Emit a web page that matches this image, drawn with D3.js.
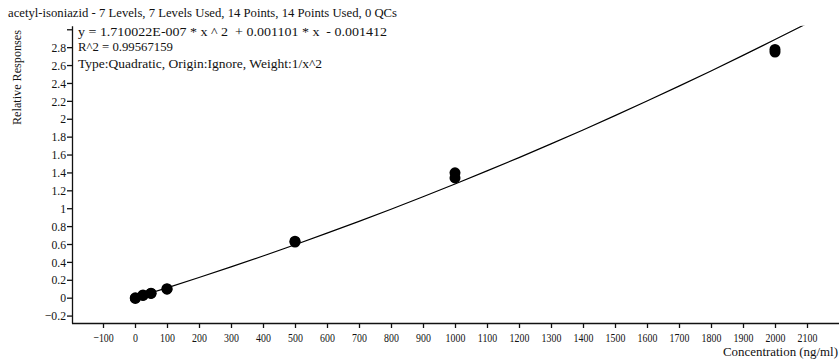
<!doctype html>
<meta charset="utf8">
<style>
  body { margin: 0; background: #fff; }
  svg text { font-family: "Liberation Serif", "DejaVu Serif", serif; fill: #111; }
</style>
<body>
<div id="chart"></div>

<script src="https://d3js.org/d3.v7.min.js"></script>
<script>
(function() {

const WIDTH = 839;
const HEIGHT = 361;

const TITLE = "acetyl-isoniazid - 7 Levels, 7 Levels Used, 14 Points, 14 Points Used, 0 QCs";
const FIT_LINES = [
  "y = 1.710022E-007 * x ^ 2  + 0.001101 * x  - 0.001412",
  "R^2 = 0.99567159",
  "Type:Quadratic, Origin:Ignore, Weight:1/x^2",
];
const X_LABEL = "Concentration (ng/ml)";
const Y_LABEL = "Relative Responses";

// calibration points (two replicates per level)
const concentrations = [1, 1, 25, 25, 50, 50, 100, 100, 500, 500, 1000, 1000, 2000, 2000];
const responses = [-0.008, -0.002, 0.025, 0.03, 0.048, 0.05, 0.095, 0.1, 0.632, 0.622, 1.395, 1.338, 2.775, 2.745];

// fitted curve
const curveX = [0, 100, 200, 300, 400, 500, 600, 700, 800, 900, 1000, 1100, 1200, 1300, 1400, 1500, 1600, 1700, 1800, 1900, 2000, 2100];
const curveY = [-0.001, 0.110, 0.226, 0.344, 0.466, 0.592, 0.721, 0.853, 0.989, 1.128, 1.271, 1.417, 1.566, 1.719, 1.875, 2.035, 2.198, 2.365, 2.534, 2.708, 2.885, 3.065];

const xTicks = d3.range(-100, 2101, 100);
const yTicks = [-0.2, 0, 0.2, 0.4, 0.6, 0.8, 1, 1.2, 1.4, 1.6, 1.8, 2, 2.2, 2.4, 2.6, 2.8, 3];
const yTickLabels = yTicks.map(d => d === 3 ? "" : d3.format("~g")(d));

const svg = d3.select("#chart").append("svg")
  .attr("width", WIDTH)
  .attr("height", HEIGHT);

const x = d3.scaleLinear().domain([-200, 2200]).range([71, 839]);
const y = d3.scaleLinear().domain([-0.283, 3.04]).range([323, 25.7]);
const axisX = 72;

// squeeze text horizontally to look like the narrow original face
function squeeze(sel, k) {
  sel.each(function() {
    const w = this.getComputedTextLength();
    if (w > 0) {
      d3.select(this).attr("textLength", w * k).attr("lengthAdjust", "spacingAndGlyphs");
    }
  });
}

function fitWidth(sel, target) {
  sel.attr("textLength", target).attr("lengthAdjust", "spacingAndGlyphs");
}

svg.append("defs").append("clipPath")
    .attr("id", "plot")
  .append("rect")
    .attr("x", axisX)
    .attr("y", y.range()[1])
    .attr("width", WIDTH - axisX)
    .attr("height", y.range()[0] - y.range()[1]);

// axes
const gx = svg.append("g")
  .attr("transform", `translate(0,${y.range()[0]})`)
  .call(d3.axisBottom(x).tickValues(xTicks).tickSize(5).tickSizeOuter(0).tickFormat(d3.format("d")));

gx.select(".domain").attr("d", `M${axisX},0.5H${WIDTH}`);
gx.selectAll("text").attr("font-size", 13).attr("dy", "0.85em").call(squeeze, 0.76);

const gy = svg.append("g")
  .attr("transform", `translate(${axisX},0)`)
  .call(d3.axisLeft(y).tickValues(yTicks).tickSize(5).tickSizeOuter(0)
    .tickFormat((d, i) => yTickLabels[i]));

gy.selectAll("text").attr("font-size", 13).attr("x", -6).call(squeeze, 0.9);

svg.selectAll(".domain, .tick line").attr("stroke", "#111").attr("stroke-width", 1.3);

// curve
const line = d3.line()
  .x((d, i) => x(curveX[i]))
  .y(d => y(d));

svg.append("path")
  .datum(curveY)
  .attr("clip-path", "url(#plot)")
  .attr("fill", "none")
  .attr("stroke", "#000")
  .attr("stroke-width", 1.2)
  .attr("d", line);

// points
svg.append("g")
  .selectAll("circle")
  .data(responses)
  .join("circle")
    .attr("cx", (d, i) => x(concentrations[i]))
    .attr("cy", d => y(d))
    .attr("r", 5.5)
    .attr("fill", "#000");

// text
svg.append("text")
  .attr("x", 8)
  .attr("y", 17)
  .attr("font-size", 13)
  .text(TITLE)
  .call(fitWidth, 389);

const fitWidths = [309, 95, 244];
const fitBase = [36, 51, 68];
FIT_LINES.forEach((t, i) => {
  svg.append("text")
    .attr("x", 78)
    .attr("y", fitBase[i])
    .attr("font-size", 13)
    .attr("xml:space", "preserve")
    .style("white-space", "pre")
    .text(t)
    .call(fitWidth, fitWidths[i]);
});

svg.append("text")
  .attr("x", 838 - 115)
  .attr("y", 356)
  .attr("font-size", 13)
  .text(X_LABEL)
  .call(fitWidth, 115);

svg.append("text")
  .attr("transform", "translate(21,125) rotate(-90)")
  .attr("font-size", 13)
  .text(Y_LABEL)
  .call(fitWidth, 95);

})();
</script>
